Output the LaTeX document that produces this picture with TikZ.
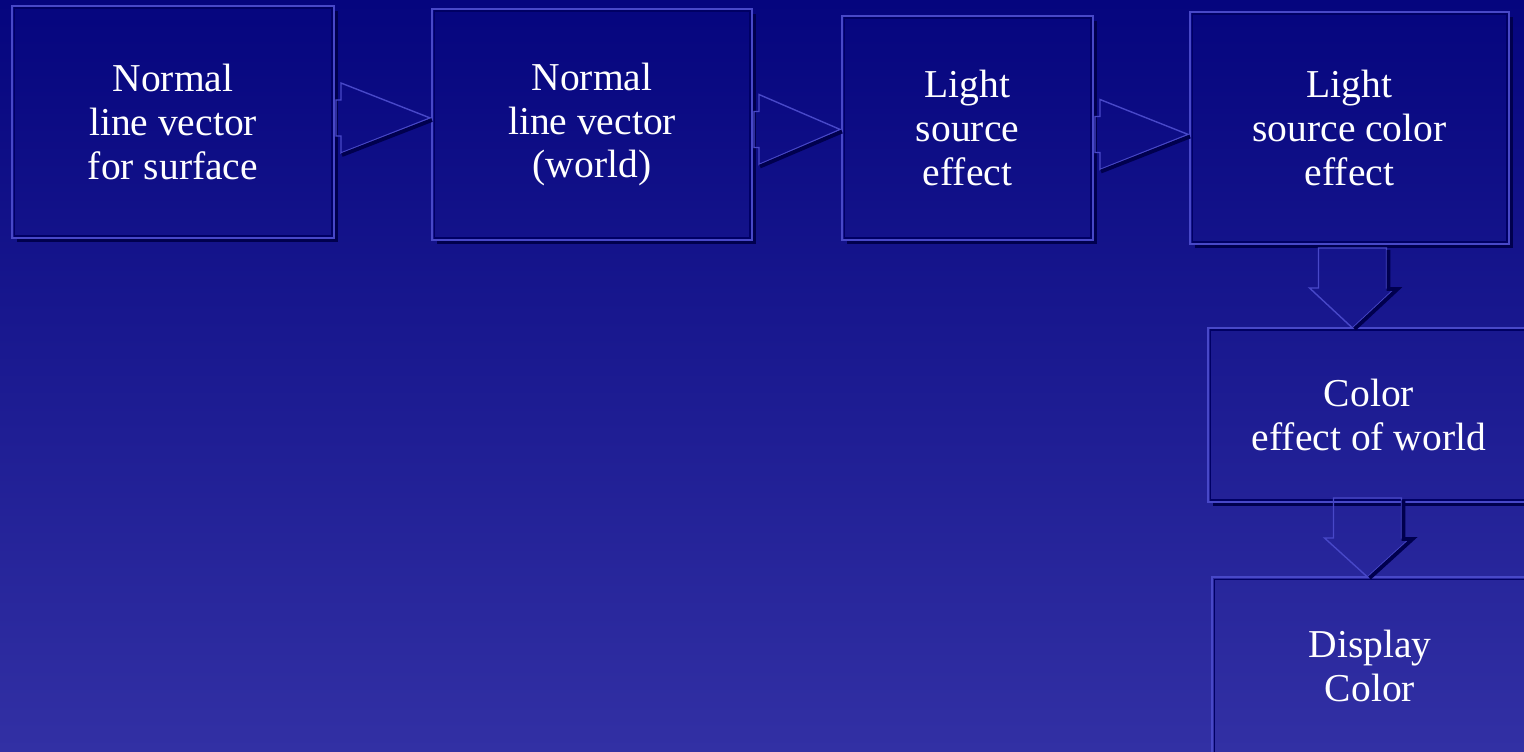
\documentclass[tikz,border=0pt]{standalone}
\usepackage{fontspec}
\setmainfont{Liberation Serif}
\usepackage{xcolor}
\usepackage{tikz}
\usetikzlibrary{calc}

\definecolor{bgtop}{RGB}{5,5,126}
\definecolor{bgbot}{RGB}{50,48,164}
\definecolor{rimlight}{RGB}{72,72,200}
\definecolor{rimdark}{RGB}{0,0,100}
\definecolor{rimcast}{RGB}{0,0,78}

% right block arrow: from, to, vertical offset, name
\newcommand\rblock[4]{%
  \coordinate (#4s) at ([shift={(2,#3)}]#1.east);
  \coordinate (#4t) at (#2.west |- #4s);
  \draw[blk] ($(#4s)+(0,-18)$) -- ++(5,0) -- ++(0,-17) -- ([xshift=-1pt]#4t)
    -- ($(#4s)+(5,35)$) -- ++(0,-17) -- ++(-5,0) -- cycle;
  \draw[castline] ($(#4s)+(6,37)$) -- ([shift={(0,2)}]#4t);
}
% down block arrow: from, to, dx, dy, name
\newcommand\dblock[5]{%
  \coordinate (#5s) at ([shift={(#3,#4)}]#1.south);
  \coordinate (#5t) at (#5s |- #2.north);
  \draw[blk] ($(#5s)+(-34,0)$) -- ++(68,0) -- ++(0,40) -- ++(9,0) -- (#5t)
    -- ($(#5s)+(-43,40)$) -- ++(9,0) -- cycle;
  \draw[castline] ($(#5s)+(36,2)$) -- ++(0,39) -- ++(9,0) -- ([shift={(2,1)}]#5t);
}

\begin{document}
\begin{tikzpicture}[x=0.02cm, y=-0.02cm,
  box/.style={draw=rimlight, line width=1.1pt, inner sep=0pt, outer sep=0pt,
    align=center, text=white, font=\fontsize{22.5}{25}\selectfont},
  rim/.style={draw=rimdark, line width=0.6pt},
  castline/.style={draw=rimcast, line width=2.2pt},
  blk/.style={draw=rimlight, line width=0.8pt, line join=miter}
]
  \useasboundingbox (0,0) rectangle (1524,751);
  \clip (0,0) rectangle (1524,751);

  % Background
  \shade[top color=bgtop, bottom color=bgbot] (0,0) rectangle (1524,751);

  % Stages
  \node[box, minimum width=6.44cm, minimum height=4.64cm] (nlv) at (173,122)
    {Normal\\line vector\\for surface};
  \node[box, minimum width=6.40cm, minimum height=4.62cm] (nlw) at (592,124.5)
    {Normal\\line vector\\(world)};
  \node[box, minimum width=5.02cm, minimum height=4.48cm] (lse) at (967.5,128)
    {Light\\source\\effect};
  \node[box, minimum width=6.38cm, minimum height=4.64cm] (lsc) at (1349.5,128)
    {Light\\source color\\effect};
  \node[box, minimum width=6.44cm, minimum height=3.48cm] (cew) at (1369,415)
    {Color\\effect of world};
  \node[box, minimum width=6.32cm, minimum height=3.56cm] (dcol) at (1370,666)
    {Display\\Color};

  % Bevel and cast shadow of each box
  \foreach \b in {nlv,nlw,lse,lsc,cew,dcol} {
    \draw[rim] ([shift={(2,2)}]\b.north west) rectangle ([shift={(-2,-2)}]\b.south east);
    \draw[castline] ([shift={(2.5,5)}]\b.north east) -- ([shift={(2.5,2.5)}]\b.south east)
      -- ([shift={(5,2.5)}]\b.south west);
  }

  % Block arrows
  \rblock{nlv}{nlw}{-4}{ra}
  \rblock{nlw}{lse}{5}{rb}
  \rblock{lse}{lsc}{6.5}{rc}
  \dblock{lsc}{cew}{3}{4}{da}
  \dblock{cew}{dcol}{-1.5}{-4}{db}
\end{tikzpicture}
\end{document}
